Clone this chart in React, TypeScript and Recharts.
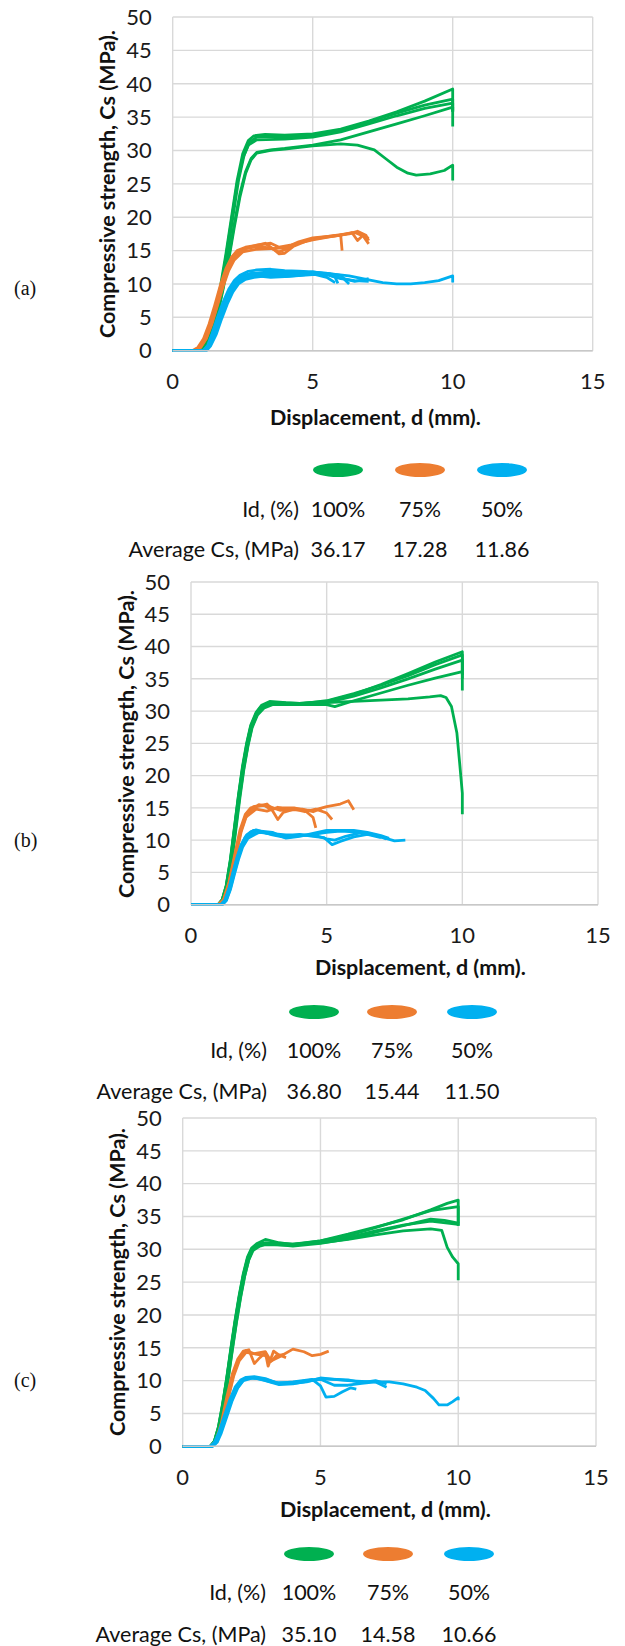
import { LineChart, Line, XAxis, YAxis, CartesianGrid } from "recharts";

// colours of the three density groups
const GREEN = "#00B050";
const ORANGE = "#ED7D31";
const BLUE = "#00B0F0";

const FONT = "Lato, 'Open Sans', sans-serif";

const X_TICKS = [0, 5, 10, 15];
const Y_TICKS = [0, 5, 10, 15, 20, 25, 30, 35, 40, 45, 50];
const ID_LABELS = ["100%", "75%", "50%"];
const AVG_A = ["36.17", "17.28", "11.86"];
const AVG_B = ["36.80", "15.44", "11.50"];
const AVG_C = ["35.10", "14.58", "10.66"];

type Pt = [number, number];

// ─── Panel (a) curves: [displacement mm, strength MPa] ───────────────────────
const aG1: Pt[] = [[0, 0], [0.9, 0], [1.1, 0.6], [1.3, 2.5], [1.5, 5.5], [1.7, 9.5], [1.9, 14.5], [2.1, 20], [2.3, 25.5], [2.5, 29.5], [2.7, 31.5], [2.9, 32.2], [3.3, 32.4], [4, 32.3], [5, 32.5], [6, 33.2], [7, 34.4], [8, 35.8], [9, 37.4], [10, 39.2], [10, 33.6]];
const aG2: Pt[] = [[0, 0], [0.95, 0], [1.15, 0.6], [1.35, 2.5], [1.55, 5.5], [1.75, 9.5], [1.95, 14.5], [2.15, 20], [2.35, 25.5], [2.55, 29.3], [2.75, 31.3], [3, 32], [3.5, 32.1], [4, 32], [5, 32.3], [6, 33], [7, 34.3], [8, 35.6], [9, 36.8], [10, 37.7], [10, 35.8]];
const aG3: Pt[] = [[0, 0], [0.9, 0], [1.1, 0.5], [1.3, 2.3], [1.5, 5.2], [1.7, 9], [1.9, 14], [2.1, 19.5], [2.3, 25], [2.5, 28.8], [2.7, 30.8], [3, 31.6], [4, 31.7], [5, 32], [6, 32.8], [7, 34], [8, 35.2], [9, 36.3], [10, 37.1], [10, 36]];
const aG4: Pt[] = [[0, 0], [1, 0], [1.2, 0.6], [1.4, 2.5], [1.6, 5.5], [1.8, 9.5], [2, 14], [2.2, 19], [2.4, 23.5], [2.6, 26.8], [2.8, 28.8], [3, 29.7], [3.5, 30.1], [4, 30.3], [5, 30.8], [6, 31.6], [7, 32.8], [8, 34], [9, 35.2], [10, 36.5], [10, 35.8]];
const aG5: Pt[] = [[0, 0], [1, 0], [1.2, 0.6], [1.4, 2.4], [1.6, 5.3], [1.8, 9.2], [2, 13.6], [2.2, 18.5], [2.4, 23], [2.6, 26.5], [2.8, 28.6], [3, 29.6], [3.5, 30], [4, 30.2], [5, 30.7], [6, 31], [6.6, 30.8], [7.2, 30.1], [7.6, 28.8], [8, 27.5], [8.4, 26.6], [8.7, 26.3], [9.2, 26.5], [9.7, 27], [10, 27.8], [10, 25.5]];

const aO1: Pt[] = [[0, 0], [0.7, 0], [0.9, 0.5], [1.1, 1.8], [1.3, 4], [1.5, 6.8], [1.7, 9.8], [1.9, 12.3], [2.1, 14], [2.3, 15], [2.6, 15.5], [3, 15.8], [3.5, 16.1], [3.8, 15.5], [4.2, 15.8], [5, 16.7], [5.6, 17.1], [6, 17.3], [6.05, 15]];
const aO2: Pt[] = [[0, 0], [0.75, 0], [0.95, 0.5], [1.15, 1.8], [1.35, 4], [1.55, 6.8], [1.75, 9.6], [1.95, 12], [2.15, 13.8], [2.4, 15], [2.8, 15.6], [3.3, 16.1], [3.6, 15.2], [3.8, 14.5], [4, 14.6], [4.3, 15.6], [5, 16.8], [6, 17.4], [6.5, 17.7], [6.8, 17.2], [7, 16]];
const aO3: Pt[] = [[0, 0], [0.8, 0], [1, 0.5], [1.2, 1.8], [1.4, 4], [1.6, 6.8], [1.8, 9.6], [2, 12], [2.2, 13.6], [2.5, 14.8], [3, 15.2], [3.5, 15.3], [4, 15.4], [4.5, 16.3], [5, 16.9], [6, 17.3], [6.4, 17.7], [6.6, 16.5], [6.8, 17.3], [7, 16.8]];
const aO4: Pt[] = [[0, 0], [0.8, 0], [1, 0.5], [1.2, 1.9], [1.4, 4.2], [1.6, 7], [1.8, 9.9], [2, 12.4], [2.2, 14.1], [2.6, 15.3], [3, 15.6], [3.5, 15.4], [3.8, 14.8], [4.1, 15.3], [4.5, 16.1], [5, 16.6], [5.8, 17.2], [6.3, 17.5], [6.6, 17.9], [6.9, 17.3], [7, 16.5]];

const aB1: Pt[] = [[0, 0], [1.1, 0], [1.25, 0.8], [1.4, 2.5], [1.6, 5], [1.8, 7.3], [2, 9.2], [2.2, 10.5], [2.4, 11.3], [2.7, 11.9], [3, 12.1], [3.5, 12.2], [4, 12], [4.5, 11.9], [5, 11.8], [5.5, 11.5], [5.8, 11], [5.9, 10.1]];
const aB2: Pt[] = [[0, 0], [1.15, 0], [1.3, 0.8], [1.45, 2.4], [1.65, 4.9], [1.85, 7.2], [2.05, 9.1], [2.25, 10.4], [2.5, 11.2], [2.8, 11.6], [3.5, 11.8], [4.5, 11.8], [5, 11.7], [5.5, 11.6], [6, 11.3], [6.2, 10.4], [6.3, 10]];
const aB3: Pt[] = [[0, 0], [1.15, 0], [1.3, 0.7], [1.5, 2.5], [1.7, 5], [1.9, 7.2], [2.1, 9], [2.3, 10.2], [2.6, 10.9], [3, 11.2], [3.5, 11], [4, 11.1], [5, 11.4], [5.5, 11.4], [6, 10.8], [6.5, 10.5], [7, 10.4]];
const aB4: Pt[] = [[0, 0], [1.1, 0], [1.25, 0.7], [1.45, 2.5], [1.65, 5], [1.85, 7.3], [2.05, 9.2], [2.25, 10.5], [2.5, 11.2], [2.8, 11.5], [3.5, 11.7], [4.5, 11.6], [5.5, 11.6], [6.3, 11.2], [7, 10.6], [7.5, 10.2], [8, 10], [8.5, 10], [9, 10.2], [9.5, 10.5], [10, 11.2], [10, 10.2]];
const aB5: Pt[] = [[0, 0], [1.1, 0], [1.3, 0.8], [1.5, 2.7], [1.7, 5.2], [1.9, 7.5], [2.1, 9.3], [2.3, 10.5], [2.6, 11.2], [3, 11.5], [4, 11.3], [5, 11.8], [5.6, 11.5], [6, 10.9], [6.5, 10.4], [6.8, 10.6], [7, 10.8]];
const aB6: Pt[] = [[0, 0], [1.2, 0], [1.35, 0.7], [1.55, 2.4], [1.75, 4.8], [1.95, 7], [2.15, 8.8], [2.35, 10], [2.6, 10.7], [2.9, 11], [3.5, 11.3], [4, 11.1], [4.5, 11.3], [5, 11.5], [5.5, 11], [5.8, 10.2]];

// ─── Panel (b) curves ─────────────────────────────────────────────────────────
const bG1: Pt[] = [[0, 0], [1, 0], [1.15, 0.8], [1.3, 3], [1.45, 7], [1.6, 12], [1.75, 17], [1.9, 21.5], [2.05, 25], [2.2, 27.8], [2.4, 29.8], [2.6, 30.9], [2.9, 31.5], [3.5, 31.3], [4, 31.2], [5, 31.5], [6, 32.6], [7, 34.1], [8, 35.8], [9, 37.6], [10, 39.2], [10, 33.2]];
const bG2: Pt[] = [[0, 0], [1.05, 0], [1.2, 0.8], [1.35, 3], [1.5, 7], [1.65, 12], [1.8, 17], [1.95, 21.3], [2.1, 24.8], [2.25, 27.6], [2.45, 29.6], [2.65, 30.7], [2.9, 31.2], [4, 31.1], [5, 31.6], [6, 32.7], [7, 34], [8, 35.5], [9, 37.2], [10, 38.7], [10, 35]];
const bG3: Pt[] = [[0, 0], [1, 0], [1.15, 0.7], [1.3, 2.8], [1.45, 6.6], [1.6, 11.5], [1.75, 16.5], [1.9, 21], [2.05, 24.6], [2.2, 27.4], [2.4, 29.5], [2.6, 30.7], [3, 31.3], [4, 31.2], [5, 31.3], [6, 32.3], [7, 33.6], [8, 35], [9, 36.5], [10, 37.9], [10, 36.2]];
const bG4: Pt[] = [[0, 0], [1.05, 0], [1.2, 0.7], [1.35, 2.8], [1.5, 6.6], [1.65, 11.5], [1.8, 16.5], [1.95, 21], [2.1, 24.6], [2.25, 27.4], [2.45, 29.4], [2.7, 30.5], [3, 31], [4, 31], [5, 31], [5.3, 30.7], [6, 31.6], [7, 32.8], [8, 34], [9, 35.1], [10, 36.1], [10, 35.6]];
const bG5: Pt[] = [[0, 0], [1, 0], [1.15, 0.8], [1.3, 3], [1.45, 6.8], [1.6, 11.8], [1.75, 16.8], [1.9, 21.2], [2.05, 24.8], [2.2, 27.6], [2.4, 29.6], [2.6, 30.8], [3, 31.1], [4, 31.2], [5, 31.3], [6, 31.5], [7, 31.7], [8, 31.9], [8.8, 32.2], [9.2, 32.4], [9.4, 32.1], [9.6, 30.7], [9.8, 26.6], [9.9, 22], [10, 17.3], [10, 14]];

const bO1: Pt[] = [[0, 0], [1, 0], [1.2, 0.8], [1.4, 3.5], [1.6, 7.5], [1.8, 11.5], [2, 14], [2.2, 15], [2.5, 15.3], [2.8, 15.6], [3, 14.8], [3.3, 15], [3.8, 15], [4.2, 14.6], [4.5, 13.5], [4.6, 11.9]];
const bO2: Pt[] = [[0, 0], [1.05, 0], [1.25, 0.8], [1.45, 3.5], [1.65, 7.5], [1.85, 11.3], [2.05, 13.8], [2.3, 15.2], [2.7, 15.4], [3, 14.6], [3.2, 13.2], [3.4, 14.3], [3.8, 14.8], [4.2, 14.4], [4.6, 14.8], [5, 14.2], [5.2, 13.2]];
const bO3: Pt[] = [[0, 0], [1, 0], [1.2, 0.7], [1.4, 3.3], [1.6, 7.2], [1.8, 11], [2, 13.5], [2.4, 14.8], [2.8, 14.5], [3.2, 15.1], [3.6, 14.7], [4, 14.7], [4.5, 14.6], [5, 15.2], [5.5, 15.6], [5.8, 16.1], [6, 14.7]];
const bO4: Pt[] = [[0, 0], [1.05, 0], [1.25, 0.8], [1.45, 3.6], [1.65, 7.6], [1.85, 11.6], [2.05, 14.1], [2.5, 15.5], [2.9, 15.2], [3.3, 14.6], [3.7, 14.9], [4.1, 14.8], [4.5, 14.4], [4.8, 14.9]];

const bB1: Pt[] = [[0, 0], [1.1, 0], [1.25, 0.7], [1.4, 2.5], [1.55, 5], [1.7, 7.3], [1.85, 9.2], [2, 10.5], [2.2, 11.3], [2.4, 11.6], [2.7, 11.2], [3, 10.8], [3.5, 10.4], [4, 10.7], [4.5, 10.9], [5, 11.2], [5.5, 11.4], [6, 11.3], [6.5, 11], [7, 10.5], [7.5, 9.9], [7.9, 10]];
const bB2: Pt[] = [[0, 0], [1.15, 0], [1.3, 0.7], [1.45, 2.5], [1.6, 5], [1.75, 7.3], [1.9, 9.2], [2.05, 10.4], [2.4, 11.4], [3, 10.9], [3.5, 10.6], [4, 10.9], [4.5, 10.6], [4.9, 10.4], [5.2, 9.3], [5.5, 9.8], [6, 10.5], [6.5, 10.9], [7, 10.4]];
const bB3: Pt[] = [[0, 0], [1.15, 0], [1.3, 0.6], [1.45, 2.3], [1.6, 4.7], [1.75, 7], [1.9, 8.9], [2.1, 10.3], [2.5, 11.2], [3, 11], [3.5, 10.8], [4, 10.8], [4.6, 10.7], [5, 10.2], [5.3, 10], [5.7, 10.6], [6.3, 11.2], [6.8, 10.8], [7.2, 10.2]];
const bB4: Pt[] = [[0, 0], [1.1, 0], [1.25, 0.7], [1.4, 2.5], [1.55, 5], [1.7, 7.4], [1.85, 9.3], [2.05, 10.8], [2.3, 11.5], [3, 11.2], [3.5, 10.3], [4, 10.6], [5, 11.5], [5.5, 11.5], [6, 11.5], [6.5, 11.2], [7, 10.7], [7.3, 10.3]];

// ─── Panel (c) curves ─────────────────────────────────────────────────────────
const cG1: Pt[] = [[0, 0], [1, 0], [1.15, 0.8], [1.3, 3], [1.45, 6.5], [1.6, 10.5], [1.75, 15], [1.9, 19.2], [2.05, 23], [2.2, 26.3], [2.35, 28.8], [2.5, 30.2], [2.7, 30.9], [3, 31.5], [3.5, 31], [4, 30.7], [5, 31.3], [6, 32.3], [7, 33.4], [8, 34.5], [9, 36], [9.6, 37], [10, 37.5], [10, 33.6]];
const cG2: Pt[] = [[0, 0], [1.05, 0], [1.2, 0.8], [1.35, 3], [1.5, 6.4], [1.65, 10.4], [1.8, 14.8], [1.95, 19], [2.1, 22.8], [2.25, 26], [2.4, 28.5], [2.55, 30], [2.8, 30.8], [3, 31], [4, 30.8], [5, 31.3], [6, 32.1], [7, 33.3], [8, 34.6], [9, 35.9], [10, 36.5], [10, 34]];
const cG3: Pt[] = [[0, 0], [1, 0], [1.15, 0.7], [1.3, 2.8], [1.45, 6.2], [1.6, 10.2], [1.75, 14.6], [1.9, 18.8], [2.05, 22.6], [2.2, 25.9], [2.35, 28.4], [2.5, 29.9], [2.75, 30.6], [3, 30.9], [4, 30.5], [5, 30.9], [6, 31.6], [7, 32.6], [8, 33.6], [9, 34.6], [9.5, 34.4], [10, 34], [10, 33.6]];
const cG4: Pt[] = [[0, 0], [1.05, 0], [1.2, 0.7], [1.35, 2.8], [1.5, 6.2], [1.65, 10.2], [1.8, 14.6], [1.95, 18.8], [2.1, 22.6], [2.25, 25.9], [2.4, 28.4], [2.55, 29.8], [2.8, 30.5], [3, 30.7], [4, 30.6], [5, 31.1], [6, 31.8], [7, 32.8], [8, 33.7], [9, 34.3], [10, 33.8]];
const cG5: Pt[] = [[0, 0], [1, 0], [1.15, 0.8], [1.3, 3], [1.45, 6.4], [1.6, 10.4], [1.75, 14.8], [1.9, 19], [2.05, 22.8], [2.2, 26.1], [2.35, 28.6], [2.5, 30], [2.75, 30.7], [3, 30.9], [4, 30.8], [5, 31], [6, 31.5], [7, 32.2], [8, 32.8], [9, 33.1], [9.4, 32.9], [9.6, 30.3], [9.8, 28.8], [10, 27.8], [10, 25.3]];

const cO1: Pt[] = [[0, 0], [1, 0], [1.2, 0.8], [1.4, 3.5], [1.6, 7.5], [1.8, 11], [2, 13.3], [2.2, 14.5], [2.4, 14.7], [2.6, 12.6], [2.8, 13.5], [3, 14.3], [3.1, 12.2], [3.3, 14.5], [3.5, 13.9], [3.75, 13.5]];
const cO2: Pt[] = [[0, 0], [1.05, 0], [1.25, 0.8], [1.45, 3.5], [1.65, 7.5], [1.85, 11], [2.05, 13.3], [2.3, 14.6], [2.6, 14.1], [3, 14.4], [3.2, 13], [3.5, 13.6], [4, 14.8], [4.4, 14.4], [4.7, 13.8], [5, 14], [5.3, 14.5]];
const cO3: Pt[] = [[0, 0], [1.05, 0], [1.25, 0.7], [1.45, 3.3], [1.65, 7.2], [1.85, 10.7], [2.05, 13], [2.3, 14.3], [2.7, 14], [3, 13.8], [3.2, 12.9], [3.4, 13.8], [3.7, 14]];

const cB1: Pt[] = [[0, 0], [1, 0], [1.15, 0.6], [1.3, 2], [1.5, 4.5], [1.7, 7], [1.9, 9], [2.1, 10.1], [2.3, 10.5], [2.6, 10.6], [3, 10.3], [3.5, 9.5], [4, 9.6], [4.5, 9.8], [5, 10.4], [5.5, 10.2], [6, 10], [6.5, 9.9], [7, 9.8], [7.5, 9.8], [8, 9.5], [8.5, 9], [8.8, 8.5], [9.1, 7.3], [9.3, 6.3], [9.6, 6.3], [9.8, 6.8], [10, 7.4], [10, 7]];
const cB2: Pt[] = [[0, 0], [1.05, 0], [1.2, 0.6], [1.35, 2], [1.55, 4.5], [1.75, 7], [1.95, 8.9], [2.15, 10], [2.4, 10.4], [3, 10.2], [3.5, 9.6], [4, 9.8], [4.7, 10.2], [5, 9.2], [5.2, 7.5], [5.5, 7.6], [5.8, 8.3], [6.1, 8.9], [6.3, 8.7]];
const cB3: Pt[] = [[0, 0], [1.05, 0], [1.2, 0.5], [1.35, 1.8], [1.55, 4.2], [1.75, 6.7], [1.95, 8.7], [2.2, 10.1], [2.5, 10.5], [3, 10], [3.5, 9.4], [4, 9.5], [4.5, 9.9], [5, 10.2], [5.5, 9.3], [6, 9.3], [6.5, 9.6], [7, 9.8], [7.4, 9]];
const cB4: Pt[] = [[0, 0], [1.1, 0], [1.25, 0.6], [1.4, 2], [1.6, 4.5], [1.8, 7], [2, 8.9], [2.2, 10], [2.6, 10.5], [3.3, 9.7], [4, 9.7], [5, 10.3], [6, 10.1], [6.5, 9.7], [7, 10], [7.4, 9.5]];

const toRows = (pts: Pt[]) => pts.map(([x, y]) => ({ x, y }));

interface Curve { color: string; pts: Pt[] }

interface PanelSpec {
  tag: string;
  tagY: number;
  left: number; right: number; top: number; bottom: number;
  yTitleX: number;
  xTitleX: number; xTitleY: number;
  legendY: number; idY: number; avgY: number;
  colX: number[];
  labelEdge: number;
  avg: string[];
  curves: Curve[];
}

const PANELS: PanelSpec[] = [
  {
    tag: "(a)", tagY: 288,
    left: 172.7, right: 592.7, top: 17.3, bottom: 351,
    yTitleX: 108, xTitleX: 270, xTitleY: 418,
    legendY: 470, idY: 510, avgY: 550,
    colX: [338, 420, 502], labelEdge: 299, avg: AVG_A,
    curves: [
      ...[aG1, aG2, aG3, aG4, aG5].map((pts) => ({ color: GREEN, pts })),
      ...[aO1, aO2, aO3, aO4].map((pts) => ({ color: ORANGE, pts })),
      ...[aB1, aB2, aB3, aB4, aB5, aB6].map((pts) => ({ color: BLUE, pts })),
    ],
  },
  {
    tag: "(b)", tagY: 840,
    left: 191, right: 598, top: 582.3, bottom: 905,
    yTitleX: 127, xTitleX: 315, xTitleY: 968,
    legendY: 1012, idY: 1051, avgY: 1092,
    colX: [314, 392, 472], labelEdge: 267, avg: AVG_B,
    curves: [
      ...[bG1, bG2, bG3, bG4, bG5].map((pts) => ({ color: GREEN, pts })),
      ...[bO1, bO2, bO3, bO4].map((pts) => ({ color: ORANGE, pts })),
      ...[bB1, bB2, bB3, bB4].map((pts) => ({ color: BLUE, pts })),
    ],
  },
  {
    tag: "(c)", tagY: 1380,
    left: 182.7, right: 596, top: 1117.7, bottom: 1446,
    yTitleX: 118, xTitleX: 280, xTitleY: 1510,
    legendY: 1554, idY: 1593, avgY: 1635,
    colX: [309, 388, 469], labelEdge: 266, avg: AVG_C,
    curves: [
      ...[cG1, cG2, cG3, cG4, cG5].map((pts) => ({ color: GREEN, pts })),
      ...[cO1, cO2, cO3].map((pts) => ({ color: ORANGE, pts })),
      ...[cB1, cB2, cB3, cB4].map((pts) => ({ color: BLUE, pts })),
    ],
  },
];

const tickStyle = { fontSize: 22, fill: "#1a1a1a", fontFamily: FONT };

function Panel({ p }: { p: PanelSpec }) {
  const plotH = p.bottom - p.top;
  const pad = 16;
  const axisH = 60;
  const text = { position: "absolute" as const, fontFamily: FONT, whiteSpace: "nowrap" as const, lineHeight: 1, color: "#111" };

  return (
    <>
      <div style={{ position: "absolute", left: 0, top: p.top - pad }}>
        <LineChart width={625} height={plotH + pad + axisH} margin={{ top: pad, right: 625 - p.right, bottom: 0, left: 0 }}>
          <CartesianGrid stroke="#d9d9d9" strokeWidth={1.4} />
          <XAxis
            type="number" dataKey="x" domain={[0, 15]} ticks={X_TICKS} interval={0}
            height={axisH} tickSize={0} tickMargin={23} tickLine={false}
            axisLine={{ stroke: "#c8c8c8", strokeWidth: 1.4 }} tick={tickStyle}
          />
          <YAxis
            type="number" domain={[0, 50]} ticks={Y_TICKS} interval={0}
            width={p.left} tickSize={0} tickMargin={21} tickLine={false}
            axisLine={false} tick={tickStyle}
          />
          {p.curves.map((c, i) => (
            <Line
              key={i}
              data={toRows(c.pts)}
              dataKey="y"
              type="linear"
              stroke={c.color}
              strokeWidth={2.8}
              strokeLinejoin="round"
              dot={false}
              activeDot={false}
              isAnimationActive={false}
            />
          ))}
        </LineChart>
      </div>

      {/* y-axis title */}
      <div style={{ ...text, left: p.yTitleX, top: (p.top + p.bottom) / 2, fontWeight: 700, fontSize: 21.5, transform: "translate(-50%, -50%) rotate(-90deg)" }}>
        Compressive strength, Cs (MPa).
      </div>

      {/* x-axis title */}
      <div style={{ ...text, left: p.xTitleX, top: p.xTitleY, fontWeight: 700, fontSize: 21.5, transform: "translateY(-50%)" }}>
        Displacement, d (mm).
      </div>

      {/* panel tag */}
      <div style={{ ...text, left: 14, top: p.tagY, fontFamily: "'Liberation Serif', serif", fontSize: 20, transform: "translateY(-50%)" }}>
        {p.tag}
      </div>

      {/* legend swatches */}
      {[GREEN, ORANGE, BLUE].map((c, i) => (
        <div key={c} style={{ position: "absolute", left: p.colX[i] - 25, top: p.legendY - 7, width: 50, height: 14, borderRadius: "50%", background: c }} />
      ))}

      <div style={{ ...text, left: p.labelEdge, top: p.idY, fontSize: 21.5, transform: "translate(-100%, -50%)" }}>Id, (%)</div>
      {ID_LABELS.map((s, i) => (
        <div key={s} style={{ ...text, left: p.colX[i], top: p.idY, fontSize: 21.5, transform: "translate(-50%, -50%)" }}>{s}</div>
      ))}

      <div style={{ ...text, left: p.labelEdge, top: p.avgY, fontSize: 21.5, transform: "translate(-100%, -50%)" }}>Average Cs, (MPa)</div>
      {p.avg.map((s, i) => (
        <div key={i} style={{ ...text, left: p.colX[i], top: p.avgY, fontSize: 21.5, transform: "translate(-50%, -50%)" }}>{s}</div>
      ))}
    </>
  );
}

export default function App() {
  return (
    <div style={{ position: "absolute", left: 0, top: 0, width: 625, height: 1646, background: "#fff", overflow: "hidden" }}>
      {PANELS.map((p) => (
        <Panel key={p.tag} p={p} />
      ))}
    </div>
  );
}
